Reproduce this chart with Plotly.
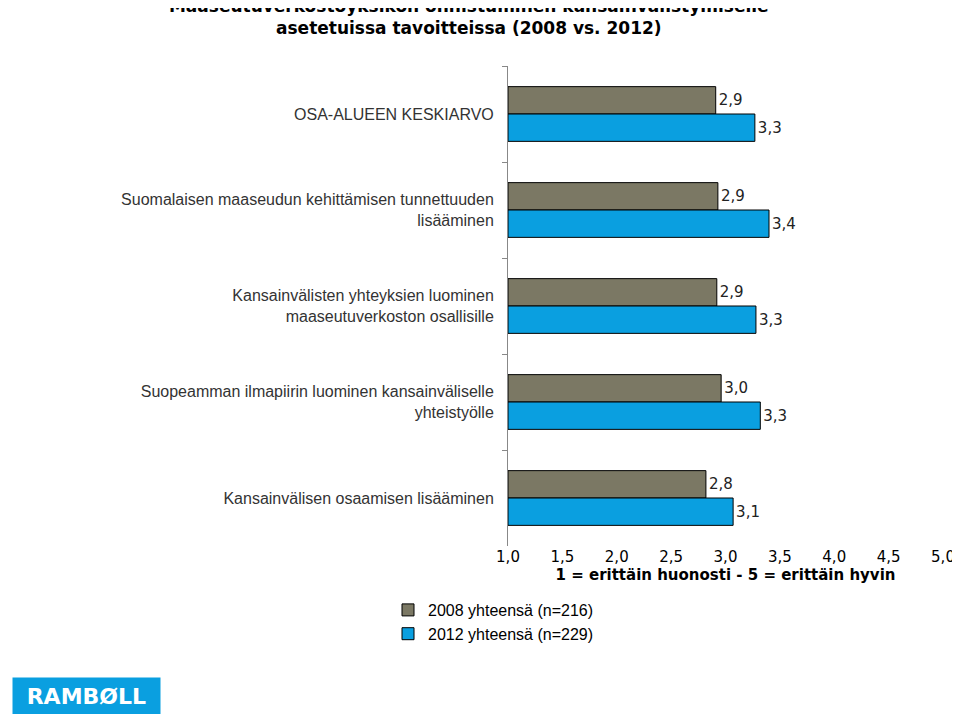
import plotly.graph_objects as go

categories = [
    "OSA-ALUEEN KESKIARVO",
    "Suomalaisen maaseudun kehittämisen tunnettuuden<br>lisääminen",
    "Kansainvälisten yhteyksien luominen<br>maaseutuverkoston osallisille",
    "Suopeamman ilmapiirin luominen kansainväliselle<br>yhteistyölle",
    "Kansainvälisen osaamisen lisääminen",
]
v2008 = [2.91, 2.93, 2.92, 2.96, 2.82]
v2012 = [3.27, 3.40, 3.28, 3.32, 3.07]
ticks = [1.0, 1.5, 2.0, 2.5, 3.0, 3.5, 4.0, 4.5, 5.0]


def fi(v):
    return f"{v:.1f}".replace(".", ",")


L, R, T, B = 500, 25, 58, 176
PW, PH = 960 - L - R, 714 - T - B

fig = go.Figure()
fig.add_trace(go.Bar(y=categories, x=[v - 1 for v in v2008], base=1, orientation="h",
                     name="2008 yhteensä (n=216)", marker_color="#7b7864",
                     marker_line=dict(color="black", width=1),
                     text=[fi(v) for v in v2008], textposition="outside",
                     textfont=dict(family="DejaVu Sans", size=15, color="#222")))
fig.add_trace(go.Bar(y=categories, x=[v - 1 for v in v2012], base=1, orientation="h",
                     name="2012 yhteensä (n=229)", marker_color="#0a9fe0",
                     marker_line=dict(color="black", width=1),
                     text=[fi(v) for v in v2012], textposition="outside",
                     textfont=dict(family="DejaVu Sans", size=15, color="#222")))

fig.update_layout(
    width=960, height=714, barmode="group", bargap=0.43, bargroupgap=0,
    plot_bgcolor="white", paper_bgcolor="white",
    margin=dict(l=L, r=R, t=T, b=B),
    font=dict(family="Liberation Sans", size=16, color="#222"),
    title=dict(text="<b>Maaseutuverkostoyksikön onnistuminen kansainvälistymiselle<br>asetetuissa tavoitteissa (2008 vs. 2012)</b>",
               x=0.48, xanchor="center", yref="container", y=0.995, yanchor="top",
               font=dict(family="DejaVu Sans", size=17, color="black")),
    legend=dict(orientation="h", x=(520 - L) / PW, xanchor="center", y=-(626 - T - PH - 12) / PH,
                yanchor="middle", entrywidth=235,
                font=dict(family="Liberation Sans", size=16, color="black"), traceorder="normal"),
)
fig.update_xaxes(range=[1, 5], tickvals=ticks, ticktext=[fi(t) for t in ticks],
                 showgrid=False, showline=False, zeroline=False,
                 tickfont=dict(family="DejaVu Sans", size=15, color="black"),
                 title=dict(text="<b>1 = erittäin huonosti - 5 = erittäin hyvin</b>",
                            font=dict(family="DejaVu Sans", size=15, color="black"), standoff=4))
fig.update_yaxes(autorange="reversed", showline=True, linecolor="#888", linewidth=1,
                 ticks="outside", tickson="boundaries", ticklen=5, tickcolor="#888",
                 ticklabelstandoff=10, tickfont=dict(family="Liberation Sans", size=16, color="#333"))
fig.add_annotation(text="<b> RAMBØLL </b>", xref="paper", yref="paper",
                   x=-(L - 4) / PW, xanchor="left", y=-(B - 6) / PH, yanchor="bottom",
                   bgcolor="#0a9fe0", borderpad=6, showarrow=False,
                   font=dict(family="DejaVu Sans", size=22, color="white"))
fig.write_html("out.html")
